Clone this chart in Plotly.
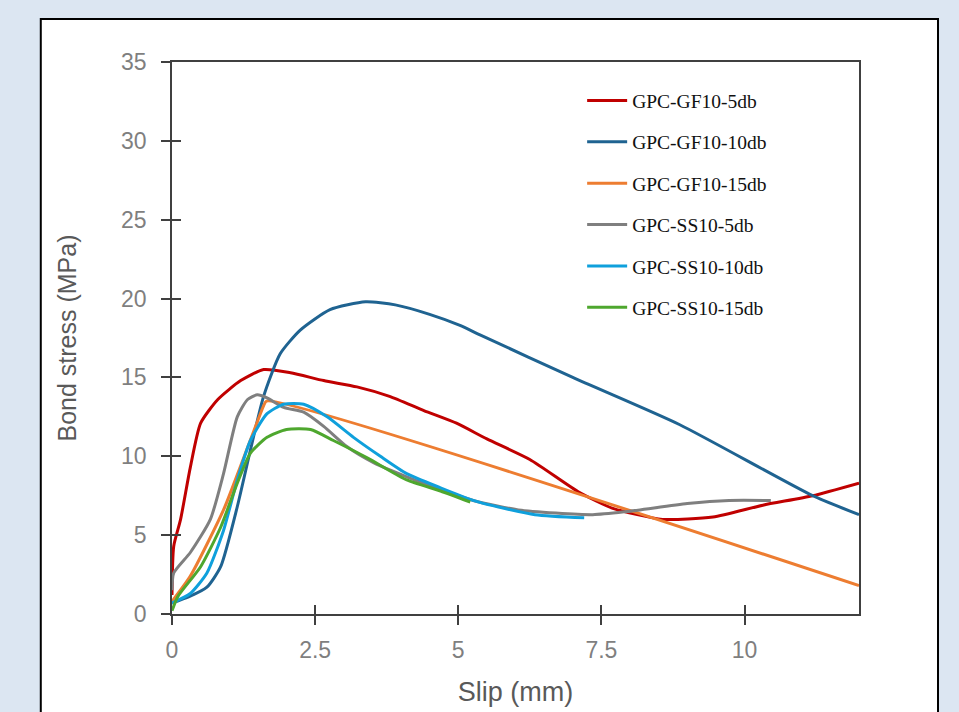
import plotly.graph_objects as go

RED = "#c00000"
NAVY = "#1f6391"
ORANGE = "#ed7d31"
GREY = "#7f7f7f"
SKY = "#0fa0dc"
GREEN = "#4ea72e"

# slip (mm) / bond stress (MPa)
gf5_slip = [0, 0.03, 0.15, 0.32, 0.5, 0.8, 1.2, 1.6, 2.07, 2.65, 3.23, 3.8, 4.4, 4.97, 5.5,
            6.25, 7.12, 7.7, 8.57, 9.45, 10.32, 11.19, 12.0]
gf5_stress = [1.2, 4.3, 6.0, 9.3, 12.1, 13.6, 14.8, 15.5, 15.3, 14.8, 14.4, 13.8, 12.9, 12.1, 11.1,
              9.8, 7.7, 6.7, 6.0, 6.15, 6.9, 7.5, 8.3]

gf10_slip = [0, 0.3, 0.61, 0.85, 1.14, 1.37, 1.6, 1.89, 2.24, 2.76, 3.38, 3.9, 4.5, 5.03, 5.38,
             7.0, 8.87, 11.19, 12.0]
gf10_stress = [0.7, 1.1, 1.7, 3.0, 6.8, 10.4, 13.8, 16.5, 18.0, 19.3, 19.8, 19.6, 19.0, 18.3, 17.7,
               15.0, 12.0, 7.5, 6.3]

gf15_slip = [0, 0.32, 0.9, 1.19, 1.6, 1.65, 12.0]
gf15_stress = [0.8, 2.4, 6.6, 9.3, 13.2, 13.5, 1.8]

ss5_slip = [0, 0.03, 0.32, 0.67, 0.9, 1.14, 1.32, 1.49, 1.66, 1.95, 2.3, 2.65, 3.06, 3.52, 4.1,
            4.69, 5.26, 6.05, 7.35, 7.95, 9.0, 9.73, 10.46]
ss5_stress = [1.5, 2.6, 3.9, 6.0, 8.9, 12.5, 13.6, 13.9, 13.7, 13.1, 12.8, 11.9, 10.6, 9.6, 8.7,
              7.9, 7.2, 6.6, 6.3, 6.5, 7.0, 7.2, 7.2]

ss10_slip = [0, 0.32, 0.61, 0.9, 1.14, 1.37, 1.66, 1.95, 2.3, 2.71, 3.17, 3.64, 4.1, 4.69, 5.26,
             5.45, 6.34, 7.2]
ss10_stress = [0.7, 1.3, 2.6, 5.3, 8.5, 11.0, 12.7, 13.3, 13.3, 12.5, 11.2, 10.0, 8.9, 8.0, 7.2,
               7.0, 6.3, 6.1]

ss15_slip = [0, 0.1, 0.5, 0.85, 1.14, 1.37, 1.66, 2.0, 2.42, 2.82, 3.41, 4.1, 4.69, 5.21]
ss15_stress = [0.2, 1.1, 3.0, 5.5, 8.3, 10.2, 11.2, 11.7, 11.7, 11.0, 9.9, 8.5, 7.8, 7.1]

series = [
    ("GPC-GF10-5db", gf5_slip, gf5_stress, RED),
    ("GPC-GF10-10db", gf10_slip, gf10_stress, NAVY),
    ("GPC-GF10-15db", gf15_slip, gf15_stress, ORANGE),
    ("GPC-SS10-5db", ss5_slip, ss5_stress, GREY),
    ("GPC-SS10-10db", ss10_slip, ss10_stress, SKY),
    ("GPC-SS10-15db", ss15_slip, ss15_stress, GREEN),
]

x_ticks = [0, 2.5, 5, 7.5, 10]
y_ticks = [0, 5, 10, 15, 20, 25, 30, 35]

fig = go.Figure()
for name, xs, ys, col in series:
    fig.add_trace(go.Scatter(
        x=xs, y=ys, mode="lines", name=name, legendgroup=name,
        line=dict(color=col, width=3, shape="spline", smoothing=0.6),
    ))

# card behind the chart
fig.add_shape(type="rect", xref="paper", yref="paper",
              x0=-0.191, x1=1.115, y0=-0.25, y1=1.078,
              fillcolor="white", line=dict(color="black", width=2), layer="below")

tick_font = dict(family="Liberation Sans, Arial", size=23, color="#7f7f7f")
ytitle_font = dict(family="Liberation Sans, Arial", size=25, color="#595959")
xtitle_font = dict(family="Liberation Sans, Arial", size=27, color="#595959")

fig.update_layout(
    width=959, height=712,
    paper_bgcolor="#dce6f2",
    plot_bgcolor="white",
    margin=dict(l=172, r=100, t=62, b=98),
    showlegend=True,
    legend=dict(
        x=0.597, y=0.965, xanchor="left", yanchor="top",
        bgcolor="rgba(0,0,0,0)",
        font=dict(family="Liberation Serif, Times New Roman", size=19.5, color="#111111"),
        tracegroupgap=13, itemwidth=40,
    ),
    xaxis=dict(
        range=[0, 12], tickvals=x_ticks, ticktext=[str(v) for v in x_ticks],
        showgrid=False, zeroline=False, automargin=False,
        showline=True, linecolor="#404040", linewidth=1.5, mirror=True,
        ticks="outside", ticklen=9, tickcolor="#404040", tickwidth=1.5,
        tickfont=tick_font, ticklabelstandoff=6,
        title=dict(text="Slip (mm)", font=xtitle_font, standoff=20),
    ),
    yaxis=dict(
        range=[0, 35], tickvals=y_ticks,
        showgrid=False, zeroline=False, automargin=False,
        showline=True, linecolor="#404040", linewidth=1.5, mirror=True,
        ticks="outside", ticklen=9, tickcolor="#404040", tickwidth=1.5,
        tickfont=tick_font, ticklabelstandoff=10,
        title=dict(text="Bond stress (MPa)", font=ytitle_font, standoff=37),
    ),
    # inner halves of the crossing tick marks
    xaxis2=dict(overlaying="x", matches="x", range=[0, 12], tickvals=x_ticks,
                showticklabels=False, showgrid=False, zeroline=False,
                ticks="inside", ticklen=9, tickcolor="#404040", tickwidth=1.5,
                side="bottom"),
    yaxis2=dict(overlaying="y", matches="y", range=[0, 35], tickvals=y_ticks[:-1],
                showticklabels=False, showgrid=False, zeroline=False,
                ticks="inside", ticklen=9, tickcolor="#404040", tickwidth=1.5,
                side="left"),
)

# invisible trace so the overlay axes are drawn
fig.add_trace(go.Scatter(x=[None], y=[None], xaxis="x2", yaxis="y2",
                         showlegend=False, hoverinfo="skip"))

fig.write_html("out.html", config={"displayModeBar": False},
               post_script="document.body.style.margin='0';")
